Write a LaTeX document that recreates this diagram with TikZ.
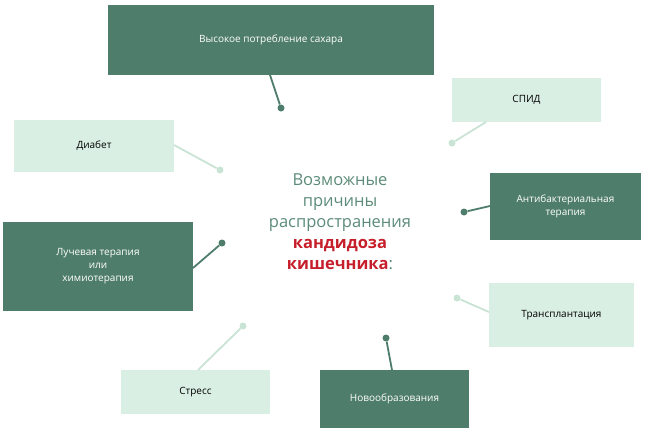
\documentclass[tikz,border=0pt]{standalone}
\usepackage{fontspec}
\setmainfont{Open Sans}
\definecolor{darkgr}{HTML}{4F7D6B}
\definecolor{lightgr}{HTML}{DAEFE3}
\definecolor{dotlight}{HTML}{C9E3D5}
\definecolor{centertx}{HTML}{5C8B79}
\definecolor{redtx}{HTML}{C61F2B}
\begin{document}
\begin{tikzpicture}[x=1pt,y=-1pt]
        \tikzset{
            darkbox/.style={fill=darkgr, text=white, font=\fontsize{10}{13}\selectfont, align=center, inner sep=0pt},
            lightbox/.style={fill=lightgr, text=black, font=\fontsize{10}{13}\selectfont, align=center, inner sep=0pt},
            darkdot/.style={circle, fill=darkgr, minimum size=7pt, inner sep=0pt},
            lightdot/.style={circle, fill=dotlight, minimum size=7pt, inner sep=0pt},
            darkline/.style={draw=darkgr, line width=1.8pt},
            lightline/.style={draw=dotlight, line width=1.8pt}
        }
        \useasboundingbox (0,0) rectangle (654,440);

        % boxes
        \node (sugar)  [darkbox, minimum width=326pt, minimum height=70pt]  at (271,40)  {Высокое потребление сахара};
        \node (aids)   [lightbox, minimum width=149pt, minimum height=44pt] at (526.5,100) {СПИД};
        \node (diab)   [lightbox, minimum width=160pt, minimum height=52pt] at (94,146)  {Диабет};
        \node (anti)   [darkbox, minimum width=151pt, minimum height=67pt]  at (565.5,206.5) {Антибактериальная\\терапия};
        \node (ray)    [darkbox, minimum width=190pt, minimum height=89pt]  at (98,266.5) {Лучевая терапия\\или\\химиотерапия};
        \node (trans)  [lightbox, minimum width=145pt, minimum height=64pt] at (561.5,315) {Трансплантация};
        \node (stress) [lightbox, minimum width=149pt, minimum height=44pt] at (195.5,392) {Стресс};
        \node (tumor)  [darkbox, minimum width=149pt, minimum height=58pt]  at (394.5,399) {Новообразования};

        % centre text
        \node (centre) [align=center, text=centertx, font=\fontsize{16.5}{21}\selectfont] at (340,222)
            {Возможные\\причины\\распространения\\\textcolor{redtx}{\textbf{кандидоза}}\\\textcolor{redtx}{\textbf{кишечника}}:};

        % dots
        \node (d1) [darkdot]  at (281,108) {};
        \node (d2) [lightdot] at (452,143) {};
        \node (d3) [lightdot] at (220,170) {};
        \node (d4) [darkdot]  at (464,212) {};
        \node (d5) [darkdot]  at (222,243) {};
        \node (d6) [lightdot] at (457,298) {};
        \node (d7) [lightdot] at (243,326) {};
        \node (d8) [darkdot]  at (386,338) {};

        % connectors
        \coordinate (c1) at (270,75);  \coordinate (c2) at (486,122);
        \coordinate (c3) at (174,145); \coordinate (c4) at (490,206);
        \coordinate (c5) at (193,268); \coordinate (c6) at (489,312);
        \coordinate (c7) at (198,370); \coordinate (c8) at (392,370);
        \draw[darkline]  (c1) -- (d1);
        \draw[lightline] (c2) -- (d2);
        \draw[lightline] (c3) -- (d3);
        \draw[darkline]  (c4) -- (d4);
        \draw[darkline]  (c5) -- (d5);
        \draw[lightline] (c6) -- (d6);
        \draw[lightline] (c7) -- (d7);
        \draw[darkline]  (c8) -- (d8);
    \end{tikzpicture}
\end{document}
